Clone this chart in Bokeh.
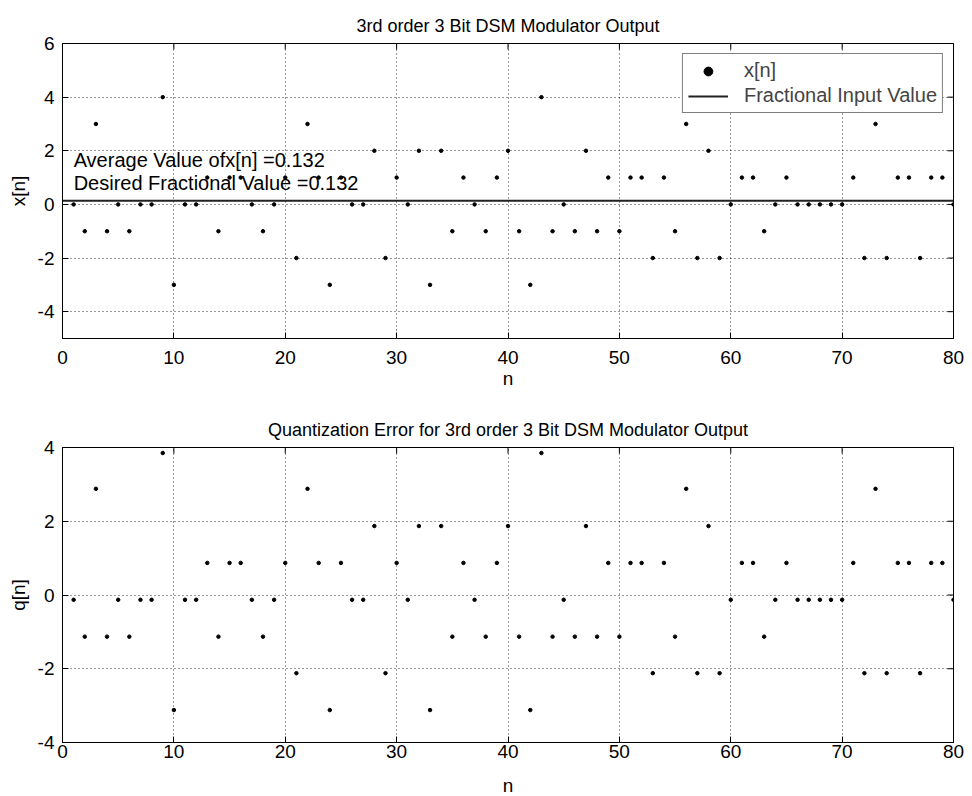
import math
from bokeh.plotting import figure
from bokeh.models import ColumnDataSource, Range1d, FixedTicker, Legend, LegendItem, Label, PrintfTickFormatter
from bokeh.layouts import column
from bokeh.embed import file_html
from bokeh.resources import INLINE

# ---------------- data ----------------
n = list(range(1, 81))
x_n = [0, -1, 3, -1, 0, -1, 0, 0, 4, -3,
       0, 0, 1, -1, 1, 1, 0, -1, 0, 1,
       -2, 3, 1, -3, 1, 0, 0, 2, -2, 1,
       0, 2, -3, 2, -1, 1, 0, -1, 1, 2,
       -1, -3, 4, -1, 0, -1, 2, -1, 1, -1,
       1, 1, -2, 1, -1, 3, -2, 2, -2, 0,
       1, 1, -1, 0, 1, 0, 0, 0, 0, 0,
       1, -2, 3, -2, 1, 1, -2, 1, 1, 0]
q_n = [-0.13, -1.13, 2.88, -1.13, -0.13, -1.13, -0.13, -0.13, 3.85, -3.12,
       -0.13, -0.13, 0.87, -1.13, 0.87, 0.87, -0.13, -1.13, -0.13, 0.87,
       -2.12, 2.88, 0.87, -3.12, 0.87, -0.13, -0.13, 1.87, -2.12, 0.87,
       -0.13, 1.87, -3.12, 1.87, -1.13, 0.87, -0.13, -1.13, 0.87, 1.87,
       -1.13, -3.12, 3.85, -1.13, -0.13, -1.13, 1.87, -1.13, 0.87, -1.13,
       0.87, 0.87, -2.12, 0.87, -1.13, 2.88, -2.12, 1.87, -2.12, -0.13,
       0.87, 0.87, -1.13, -0.13, 0.87, -0.13, -0.13, -0.13, -0.13, -0.13,
       0.87, -2.12, 2.88, -2.12, 0.87, 0.87, -2.12, 0.87, 0.87, -0.13]
frac_n = [0, 80]
frac_val = [0.132, 0.132]
x_ticks = [0, 10, 20, 30, 40, 50, 60, 70, 80]
top_y_ticks = [-4, -2, 0, 2, 4, 6]
bot_y_ticks = [-4, -2, 0, 2, 4]

FONT = "Liberation Sans"
FS_TICK = "19px"
FS_TITLE = "18px"
FS_TEXT = "20px"


def style(p, yticks, yr, x_label_standoff, x_axis_label_standoff):
    p.title.text_font = FONT
    p.title.text_font_size = FS_TITLE
    p.title.text_font_style = "normal"
    p.title.text_color = "black"
    p.title.align = "center"
    p.title.standoff = 16
    p.outline_line_color = "black"
    p.outline_line_width = 1
    p.xaxis.ticker = FixedTicker(ticks=x_ticks)
    p.yaxis.ticker = FixedTicker(ticks=yticks)
    for ax in p.axis:
        ax.formatter = PrintfTickFormatter(format="%d")
        ax.major_tick_in = 6
        ax.major_tick_out = 0
        ax.minor_tick_in = 0
        ax.minor_tick_out = 0
        ax.axis_line_color = "black"
        ax.major_tick_line_color = "black"
        ax.major_label_text_font = FONT
        ax.major_label_text_font_size = FS_TICK
        ax.major_label_text_color = "black"
        ax.axis_label_text_font = FONT
        ax.axis_label_text_font_size = FS_TICK
        ax.axis_label_text_font_style = "normal"
        ax.axis_label_text_color = "black"
    p.yaxis.major_label_standoff = 8
    p.xaxis.major_label_standoff = x_label_standoff
    p.xaxis.axis_label_standoff = x_axis_label_standoff
    p.yaxis.axis_label_standoff = 6
    p.xgrid.ticker = FixedTicker(ticks=x_ticks)
    p.ygrid.ticker = FixedTicker(ticks=yticks)
    for g in (p.xgrid, p.ygrid):
        g.grid_line_color = "black"
        g.grid_line_dash = "1 3"
        g.grid_line_width = 1
        g.grid_line_alpha = 0.8
    # inward ticks mirrored on the top and right edges
    p.scatter(x_ticks, [yr[1]] * len(x_ticks), marker="dash", angle=math.pi / 2,
              size=12, line_color="black", line_width=1)
    p.scatter([80] * len(yticks), yticks, marker="dash", size=12,
              line_color="black", line_width=1)


# ---------------- top figure ----------------
p1 = figure(frame_width=891, frame_height=295, x_range=Range1d(0, 80), y_range=Range1d(-5, 6),
            output_backend="svg", toolbar_location=None,
            min_border_left=62, min_border_right=19, min_border_top=43, min_border_bottom=62,
            title="3rd order 3 Bit DSM Modulator Output",
            x_axis_label="n", y_axis_label="x[n]")
style(p1, top_y_ticks, (-5, 6), 12, 1)
src1 = ColumnDataSource(dict(n=n, x=x_n))
r_pts = p1.scatter("n", "x", source=src1, size=3.5, color="black")
r_line = p1.line(frac_n, frac_val, line_color="#222222", line_width=2)

legend = Legend(items=[LegendItem(label="x[n]", renderers=[r_pts]),
                       LegendItem(label="Fractional Input Value", renderers=[r_line])],
                location="top_right")
legend.label_text_font = FONT
legend.label_text_font_size = FS_TEXT
legend.label_height = 22
legend.glyph_height = 22
legend.border_line_color = "black"
legend.border_line_width = 1
legend.background_fill_color = "white"
legend.background_fill_alpha = 1
legend.glyph_width = 40
legend.label_standoff = 16
legend.spacing = 2
legend.padding = 5
legend.margin = 10
p1.add_layout(legend)

p1.add_layout(Label(x=1, y=1.23, text="Average Value ofx[n] =0.132", text_font=FONT,
                    text_font_size=FS_TEXT, text_color="black"))
p1.add_layout(Label(x=1, y=0.37, text="Desired Fractional Value =0.132", text_font=FONT,
                    text_font_size=FS_TEXT, text_color="black"))

# ---------------- bottom figure ----------------
p2 = figure(frame_width=891, frame_height=295, x_range=Range1d(0, 80), y_range=Range1d(-4, 4),
            output_backend="svg", toolbar_location=None,
            min_border_left=62, min_border_right=19, min_border_top=47, min_border_bottom=54,
            title="Quantization Error for 3rd order 3 Bit DSM Modulator Output",
            x_axis_label="n", y_axis_label="q[n]")
style(p2, bot_y_ticks, (-4, 4), 2, 14)
src2 = ColumnDataSource(dict(n=n, q=q_n))
p2.scatter("n", "q", source=src2, size=3.5, color="black")

layout = column(p1, p2, spacing=0)
open("out.html", "w").write(file_html(layout, INLINE))
